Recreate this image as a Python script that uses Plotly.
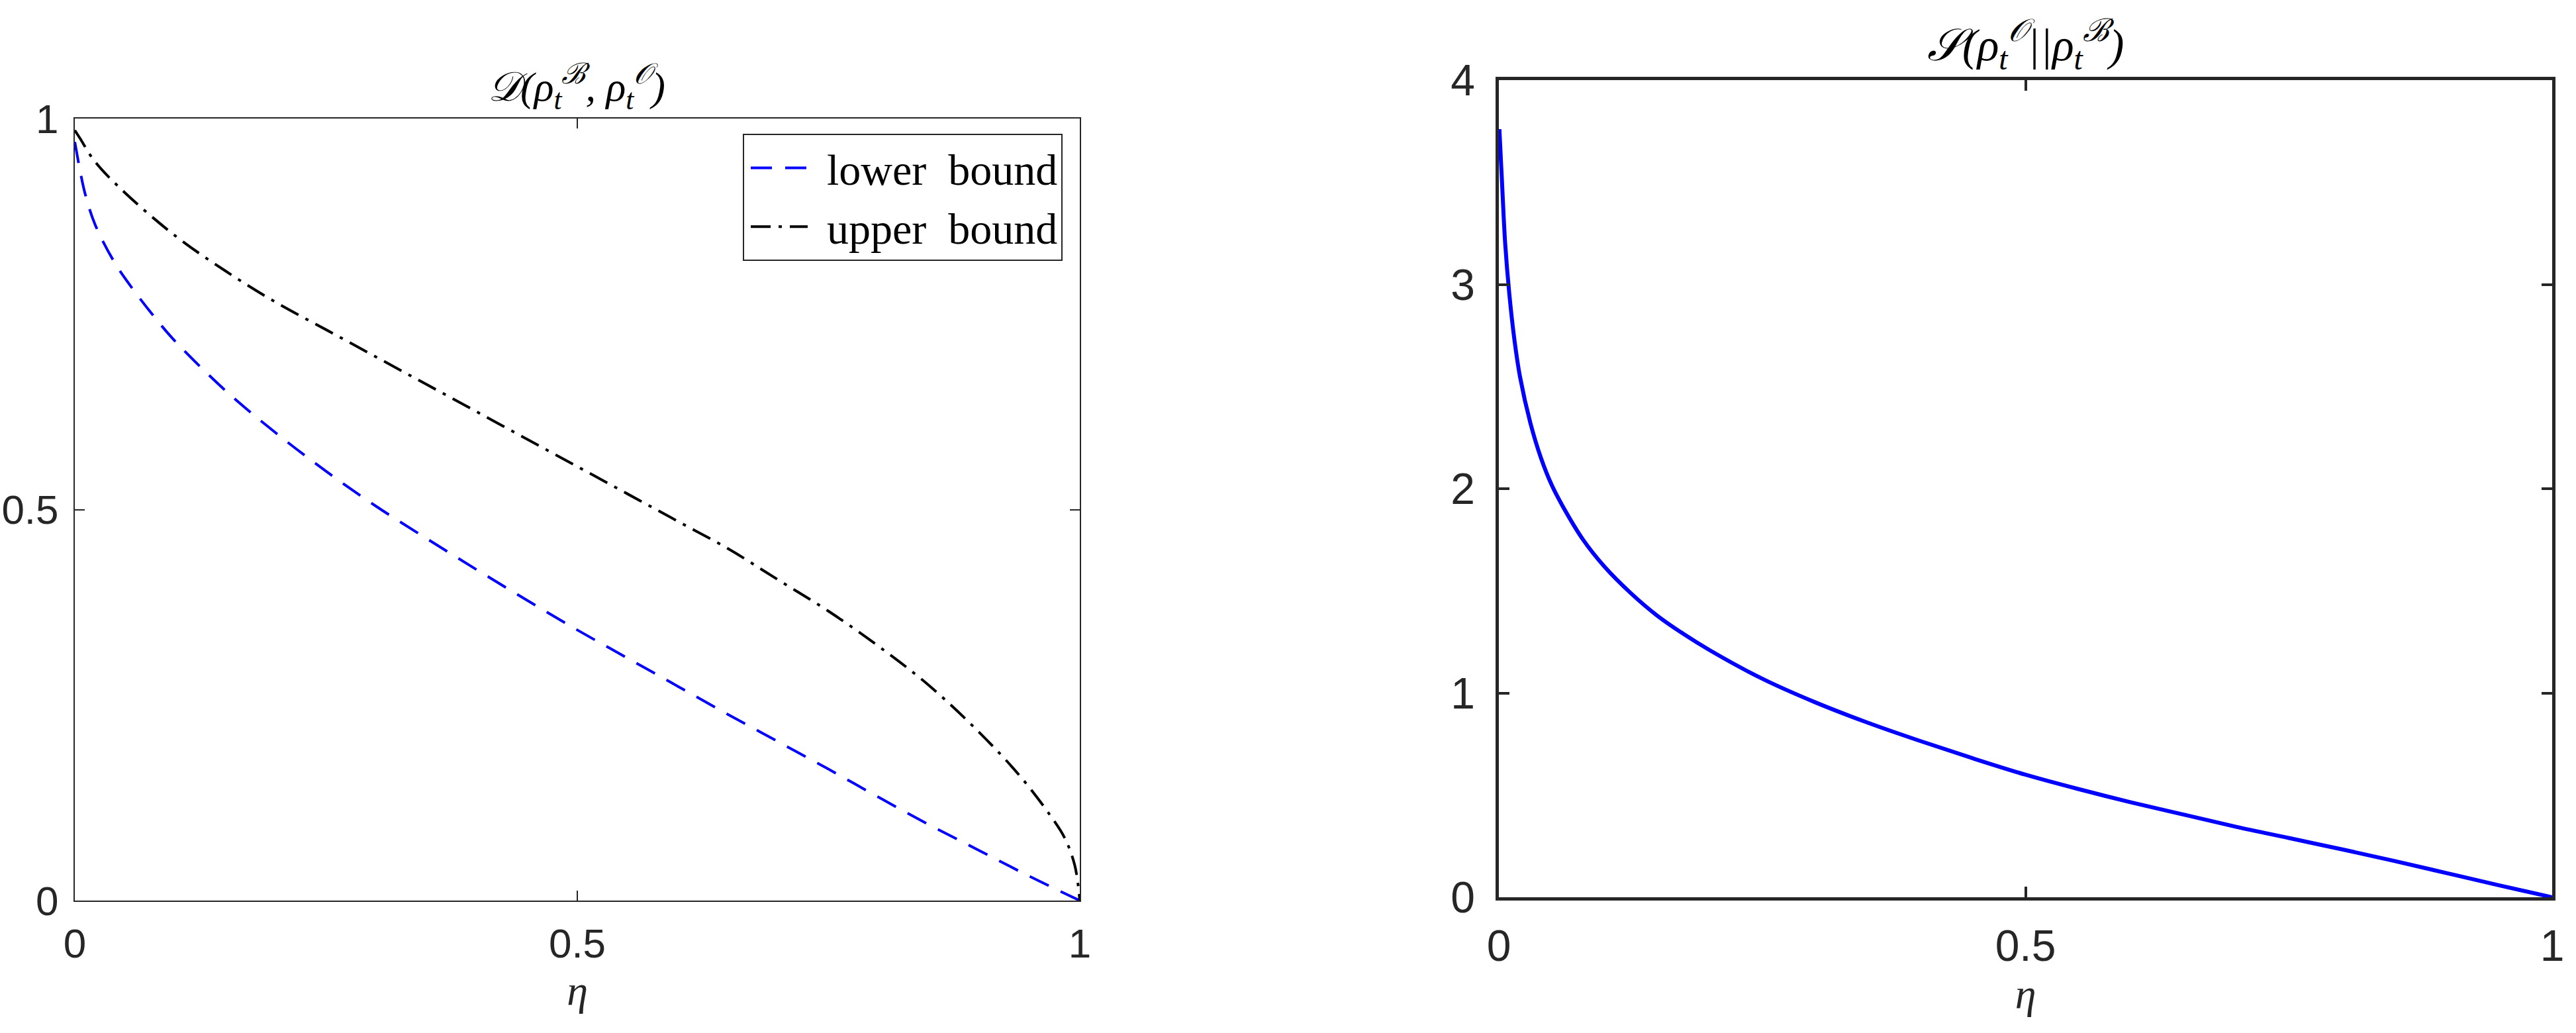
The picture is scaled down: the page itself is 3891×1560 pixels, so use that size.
import plotly.graph_objects as go

# ---------------- data ----------------
eta_lower = [0.0, 0.005, 0.01, 0.02, 0.04, 0.06, 0.08, 0.10, 0.15, 0.20, 0.25, 0.30,
             0.35, 0.40, 0.45, 0.50, 0.55, 0.60, 0.65, 0.70, 0.75, 0.80, 0.85, 0.90,
             0.95, 1.0]
lower_bound = [0.97, 0.935, 0.905, 0.865, 0.815, 0.778, 0.745, 0.715, 0.652, 0.598, 0.549, 0.504,
               0.463, 0.423, 0.384, 0.346, 0.31, 0.274, 0.238, 0.203, 0.168, 0.132, 0.097, 0.064,
               0.031, 0.0]

eta_upper = [0.0, 0.005, 0.02, 0.05, 0.10, 0.15, 0.20, 0.25, 0.30, 0.35, 0.40, 0.45,
             0.50, 0.55, 0.60, 0.65, 0.70, 0.75, 0.80, 0.85, 0.90, 0.94, 0.97, 0.985,
             0.995, 1.0]
upper_bound = [0.985, 0.975, 0.945, 0.905, 0.85, 0.805, 0.765, 0.73, 0.695, 0.66, 0.625, 0.59,
               0.555, 0.52, 0.485, 0.45, 0.41, 0.37, 0.325, 0.275, 0.215, 0.16, 0.11, 0.08,
               0.045, 0.0]

eta_rel = [0.0005, 0.003, 0.006, 0.01, 0.015, 0.02, 0.03, 0.04, 0.05, 0.06, 0.08, 0.10,
           0.125, 0.15, 0.175, 0.20, 0.25, 0.30, 0.35, 0.40, 0.45, 0.50, 0.55, 0.60, 0.65,
           0.70, 0.75, 0.80, 0.85, 0.90, 0.95, 1.0]
rel_entropy = [3.76, 3.5, 3.2, 2.95, 2.72, 2.55, 2.32, 2.15, 2.02, 1.92, 1.75, 1.62,
               1.49, 1.38, 1.29, 1.21, 1.07, 0.955, 0.855, 0.765, 0.68, 0.6, 0.53, 0.465, 0.405,
               0.345, 0.29, 0.235, 0.178, 0.118, 0.058, 0.0]

x_ticks = [0, 0.5, 1]
x_ticktext = ["0", "0.5", "1"]
y1_ticks = [0, 0.5, 1]
y1_ticktext = ["0", "0.5", "1"]
y2_ticks = [0, 1, 2, 3, 4]
y2_ticktext = ["0", "1", "2", "3", "4"]

legend_names = ["lower\u2002bound", "upper\u2002bound"]
title_left = "<i>𝒟(ρ<sub>t</sub><sup>ℬ</sup>, ρ<sub>t</sub><sup>𝒪</sup>)</i>"
title_right = "<i>𝒮(ρ<sub>t</sub><sup>𝒪</sup>||ρ<sub>t</sub><sup>ℬ</sup>)</i>"
x_title = "<i>η</i>"

# ---------------- figure ----------------
W, H = 3891, 1560
AX = "#262626"
TICKFONT = "Liberation Sans, Arial, Helvetica, sans-serif"
SERIF = "Liberation Serif, Times New Roman, DejaVu Serif, serif"

fig = go.Figure()
fig.add_trace(go.Scatter(x=eta_lower, y=lower_bound, mode="lines", name=legend_names[0],
                         line=dict(color="#0000ff", width=4, dash="32px,20px", shape="spline", smoothing=1.0),
                         xaxis="x", yaxis="y"))
fig.add_trace(go.Scatter(x=eta_upper, y=upper_bound, mode="lines", name=legend_names[1],
                         line=dict(color="#000000", width=4, dash="30px,12px,5px,12px", shape="spline", smoothing=1.0),
                         xaxis="x", yaxis="y"))
fig.add_trace(go.Scatter(x=eta_rel, y=rel_entropy, mode="lines", name="S", showlegend=False,
                         line=dict(color="#0000ff", width=6, shape="spline", smoothing=1.0),
                         xaxis="x2", yaxis="y2"))

def axis_common(lw, tw, tl, fs):
    return dict(showgrid=False, zeroline=False, showline=True, linecolor=AX, linewidth=lw,
                mirror="ticks", ticks="inside", ticklen=tl, tickwidth=tw, tickcolor=AX,
                automargin=False,
                tickfont=dict(family=TICKFONT, size=fs, color=AX))

fig.update_layout(
    template="none",
    width=W, height=H, autosize=False,
    margin=dict(l=0, r=0, t=0, b=0, pad=0),
    paper_bgcolor="white", plot_bgcolor="white",
    xaxis=dict(domain=[113 / W, 1631 / W], range=[0, 1], anchor="y",
               tickvals=x_ticks, ticktext=x_ticktext, ticklabelstandoff=10,
               title=dict(text=x_title, font=dict(family=SERIF, size=64, color=AX), standoff=14),
               **axis_common(2, 2, 15, 62)),
    yaxis=dict(domain=[1 - 1360 / H, 1 - 179 / H], range=[0, 1], anchor="x",
               tickvals=y1_ticks, ticktext=y1_ticktext, ticklabelstandoff=10,
               **axis_common(2, 2, 15, 62)),
    xaxis2=dict(domain=[2264 / W, 3855 / W], range=[0, 1], anchor="y2",
                tickvals=x_ticks, ticktext=x_ticktext, ticklabelstandoff=12,
                title=dict(text=x_title, font=dict(family=SERIF, size=64, color=AX), standoff=14),
                **axis_common(4.5, 4, 16, 66)),
    yaxis2=dict(domain=[1 - 1355 / H, 1 - 121 / H], range=[0, 4], anchor="x2",
                tickvals=y2_ticks, ticktext=y2_ticktext, ticklabelstandoff=18,
                **axis_common(4.5, 4, 16, 66)),
    showlegend=True,
    legend=dict(x=1605 / W, y=1 - 202 / H, xanchor="right", yanchor="top",
                bgcolor="white", bordercolor=AX, borderwidth=2,
                font=dict(family=SERIF, size=66, color="#000000"),
                itemwidth=115, tracegroupgap=0),
    annotations=[
        dict(text=title_left, xref="paper", yref="paper", x=871 / W, y=1 - 130 / H,
             xanchor="center", yanchor="middle", showarrow=False,
             font=dict(family=SERIF, size=62, color="#000000")),
        dict(text=title_right, xref="paper", yref="paper", x=3059 / W, y=1 - 68 / H,
             xanchor="center", yanchor="middle", showarrow=False,
             font=dict(family=SERIF, size=68, color="#000000")),
    ],
)

# lengthen the legend line samples (MATLAB-style long samples)
js = """
document.body.style.margin='0';document.body.style.overflow='hidden';
var fixLegend = function(){
  document.querySelectorAll('.legend .legendlines path').forEach(function(p){
    p.setAttribute('d','M10,0h86');
  });
};
fixLegend();
var gd = document.querySelector('.plotly-graph-div');
if (gd && gd.on) { gd.on('plotly_afterplot', fixLegend); }
"""
fig.write_html("out.html", config={"displayModeBar": False}, post_script=js)
